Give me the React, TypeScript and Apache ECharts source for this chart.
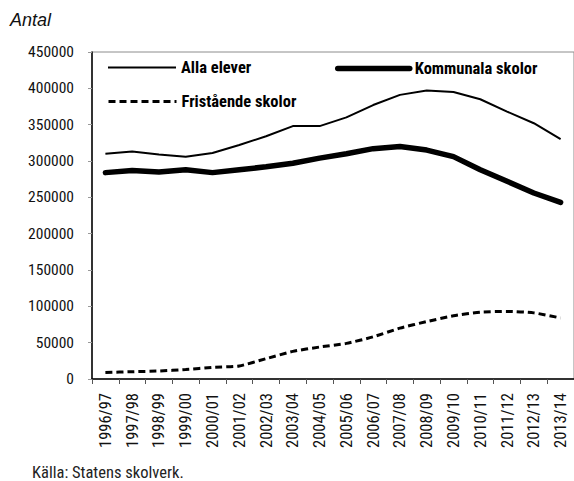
import React, { useEffect, useRef } from "react";
import * as echarts from "echarts";

const categories = [
  "1996/97", "1997/98", "1998/99", "1999/00", "2000/01", "2001/02",
  "2002/03", "2003/04", "2004/05", "2005/06", "2006/07", "2007/08",
  "2008/09", "2009/10", "2010/11", "2011/12", "2012/13", "2013/14",
];

const allaElever = [
  310000, 313000, 309000, 306000, 311000, 322000, 334000, 348000, 348000,
  360000, 377000, 391000, 397000, 395000, 385000, 368000, 352000, 330000,
];

const kommunalaSkolor = [
  284000, 287000, 285000, 288000, 284000, 288000, 292000, 297000, 304000,
  310000, 317000, 320000, 315000, 306000, 288000, 272000, 256000, 243000,
];

const fristaendeSkolor = [
  9000, 10000, 11000, 13000, 16000, 18000, 28000, 38000, 44000,
  49000, 58000, 70000, 79000, 87000, 92000, 93000, 91000, 84000,
];

const yMin = 0;
const yMax = 450000;
const yInterval = 50000;

const seriesNames = ["Alla elever", "Kommunala skolor", "Fristående skolor"];
const yTitle = "Antal";
const sourceNote = "Källa: Statens skolverk.";

const FONT = '"Roboto Condensed", "Liberation Sans Narrow", Roboto, sans-serif';

export default function App() {
  const ref = useRef<HTMLDivElement>(null);

  useEffect(() => {
    document.body.style.margin = "0";
    if (!ref.current) return;
    const chart = echarts.init(ref.current, undefined, { renderer: "svg" });
    const legendText = {
      fontFamily: FONT,
      fontWeight: "bold" as const,
      fontSize: 16.5,
      color: "#000",
    };
    const legendBase = {
      padding: 0,
      itemHeight: 14,
      itemStyle: { opacity: 0 },
      textStyle: legendText,
    };
    chart.setOption({
      animation: false,
      grid: {
        left: 92,
        right: -10,
        top: 52,
        bottom: 102,
        show: true,
        borderColor: "#8c8c8c",
        borderWidth: 1,
      },
      xAxis: {
        type: "category",
        data: categories,
        boundaryGap: true,
        axisLine: { lineStyle: { color: "#000", width: 1.5 } },
        axisTick: { show: true, length: 5, lineStyle: { color: "#555" } },
        axisLabel: {
          rotate: 90,
          margin: 14,
          interval: 0,
          fontSize: 16.5,
          color: "#111",
          fontFamily: FONT,
        },
        splitLine: { show: false },
      },
      yAxis: {
        type: "value",
        min: yMin,
        max: yMax,
        interval: yInterval,
        axisLine: { show: true, lineStyle: { color: "#000", width: 1.5 } },
        axisTick: { show: true, length: 4, lineStyle: { color: "#999" } },
        axisLabel: {
          margin: 18,
          fontSize: 15.5,
          color: "#111",
          fontFamily: FONT,
          formatter: (v: number) => String(v),
        },
        splitLine: { show: false },
      },
      legend: [
        {
          ...legendBase,
          data: [seriesNames[0]],
          left: 107,
          top: 59,
          itemWidth: 68,
          lineStyle: { width: 2, color: "#000" },
        },
        {
          ...legendBase,
          data: [seriesNames[1]],
          left: 335,
          top: 60,
          itemWidth: 72,
          lineStyle: { width: 5.5, color: "#000", cap: "round" },
        },
        {
          ...legendBase,
          data: [seriesNames[2]],
          left: 107,
          top: 93,
          itemWidth: 68,
          lineStyle: { width: 3, color: "#000", type: [7, 4] },
        },
      ],
      series: [
        {
          name: seriesNames[0],
          type: "line",
          data: allaElever,
          symbol: "none",
          lineStyle: { color: "#000", width: 2 },
          itemStyle: { color: "#000" },
        },
        {
          name: seriesNames[1],
          type: "line",
          data: kommunalaSkolor,
          symbol: "none",
          lineStyle: { color: "#000", width: 5.5, cap: "round" },
          itemStyle: { color: "#000" },
        },
        {
          name: seriesNames[2],
          type: "line",
          data: fristaendeSkolor,
          symbol: "none",
          smooth: 0.2,
          lineStyle: { color: "#000", width: 3, type: [7, 4] },
          itemStyle: { color: "#000" },
        },
      ],
      graphic: [
        {
          type: "text",
          left: 10,
          top: 11,
          style: {
            text: yTitle,
            fontFamily: '"Liberation Sans", Arial, sans-serif',
            fontStyle: "italic",
            fontSize: 18,
            fill: "#111",
          },
        },
        {
          type: "text",
          left: 32,
          top: 464,
          style: {
            text: sourceNote,
            fontFamily: FONT,
            fontSize: 16.5,
            fill: "#222",
          },
        },
      ],
    });
    return () => chart.dispose();
  }, []);

  return <div ref={ref} style={{ width: 574, height: 481 }} />;
}
